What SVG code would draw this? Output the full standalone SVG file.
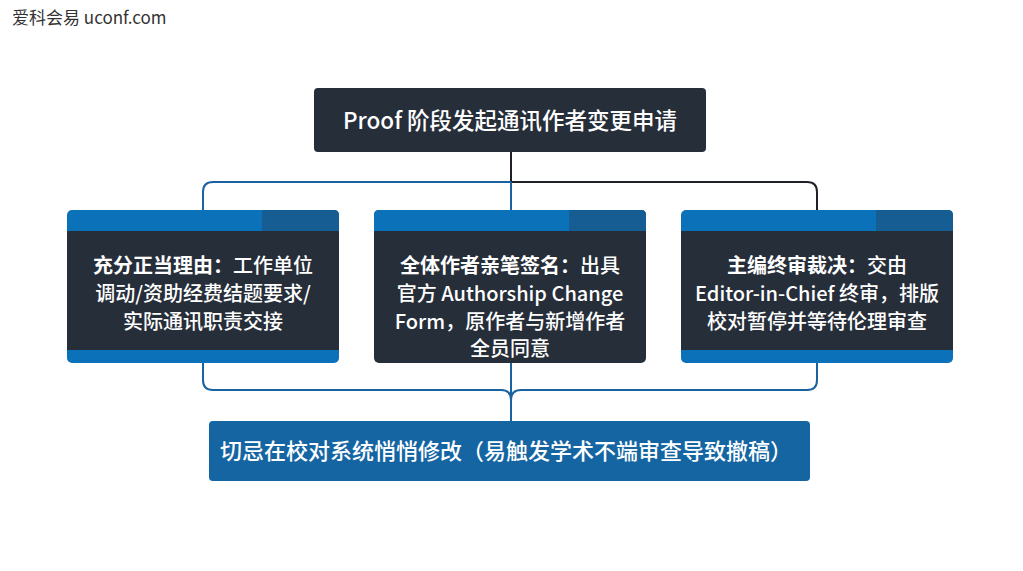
<svg xmlns="http://www.w3.org/2000/svg" width="1023" height="571" viewBox="0 0 1023 571">
<style>
text{font-family:"Noto Sans CJK SC","Noto Sans",sans-serif;fill:#fff;text-anchor:middle;font-weight:500}
.b{font-weight:700}
.body{font-size:20px}
.dark{fill:#262e3a}
.hdr{fill:#0b72b9}
.hdr2{fill:#155d93}
.cb{fill:none;stroke:#1a62a0;stroke-width:2}
.ck{fill:none;stroke:#1e2228;stroke-width:2}
</style>
<rect width="1023" height="571" fill="#fff"/>
<text x="12" y="24" style="font-size:17px;fill:#333;text-anchor:start;font-weight:400">爱科会易 uconf.com</text>
<g id="connectors">
<path class="ck" d="M511 152V182"/>
<path class="cb" d="M511 182H213Q203 182 203 192V210"/>
<path class="ck" d="M511 182H807Q817 182 817 192V210"/>
<path class="cb" d="M511 182V210"/>
<path class="cb" d="M203 363V380Q203 390 213 390H501Q511 390 511 400"/>
<path class="cb" d="M817 363V380Q817 390 807 390H521Q511 390 511 400"/>
<path class="cb" d="M511 363V421"/>
</g>
<g id="top">
<rect x="314" y="88" width="392" height="64" rx="4" class="dark"/>
<text x="510" y="129" style="font-size:22.5px">Proof 阶段发起通讯作者变更申请</text>
</g>
<g id="left">
<rect x="67" y="210" width="272" height="153" rx="5" class="hdr"/>
<path d="M262 210H334Q339 210 339 215V231H262Z" class="hdr2"/>
<rect x="67" y="231" width="272" height="119" class="dark"/>
<text class="body" x="203" y="273"><tspan class="b">充分正当理由：</tspan>工作单位</text>
<text class="body" x="203" y="301">调动/资助经费结题要求/</text>
<text class="body" x="203" y="329">实际通讯职责交接</text>
</g>
<g id="middle">
<rect x="374" y="210" width="272" height="153" rx="5" class="dark"/>
<path d="M374 231V215Q374 210 379 210H641Q646 210 646 215V231Z" class="hdr"/>
<path d="M569 210H641Q646 210 646 215V231H569Z" class="hdr2"/>
<text class="body" x="510" y="273"><tspan class="b">全体作者亲笔签名：</tspan>出具</text>
<text class="body" x="510" y="301">官方 Authorship Change</text>
<text class="body" x="510" y="329">Form，原作者与新增作者</text>
<text class="body" x="510" y="356">全员同意</text>
</g>
<g id="right">
<rect x="681" y="210" width="272" height="153" rx="5" class="hdr"/>
<path d="M876 210H948Q953 210 953 215V231H876Z" class="hdr2"/>
<rect x="681" y="231" width="272" height="119" class="dark"/>
<text class="body" x="817" y="273"><tspan class="b">主编终审裁决：</tspan>交由</text>
<text class="body" x="817" y="301">Editor-in-Chief 终审，排版</text>
<text class="body" x="817" y="329">校对暂停并等待伦理审查</text>
</g>
<g id="bottom">
<rect x="209" y="421" width="601" height="60" rx="4" fill="#1565a3"/>
<text x="506" y="459" style="font-size:22px">切忌在校对系统悄悄修改（易触发学术不端审查导致撤稿）</text>
</g>
</svg>
